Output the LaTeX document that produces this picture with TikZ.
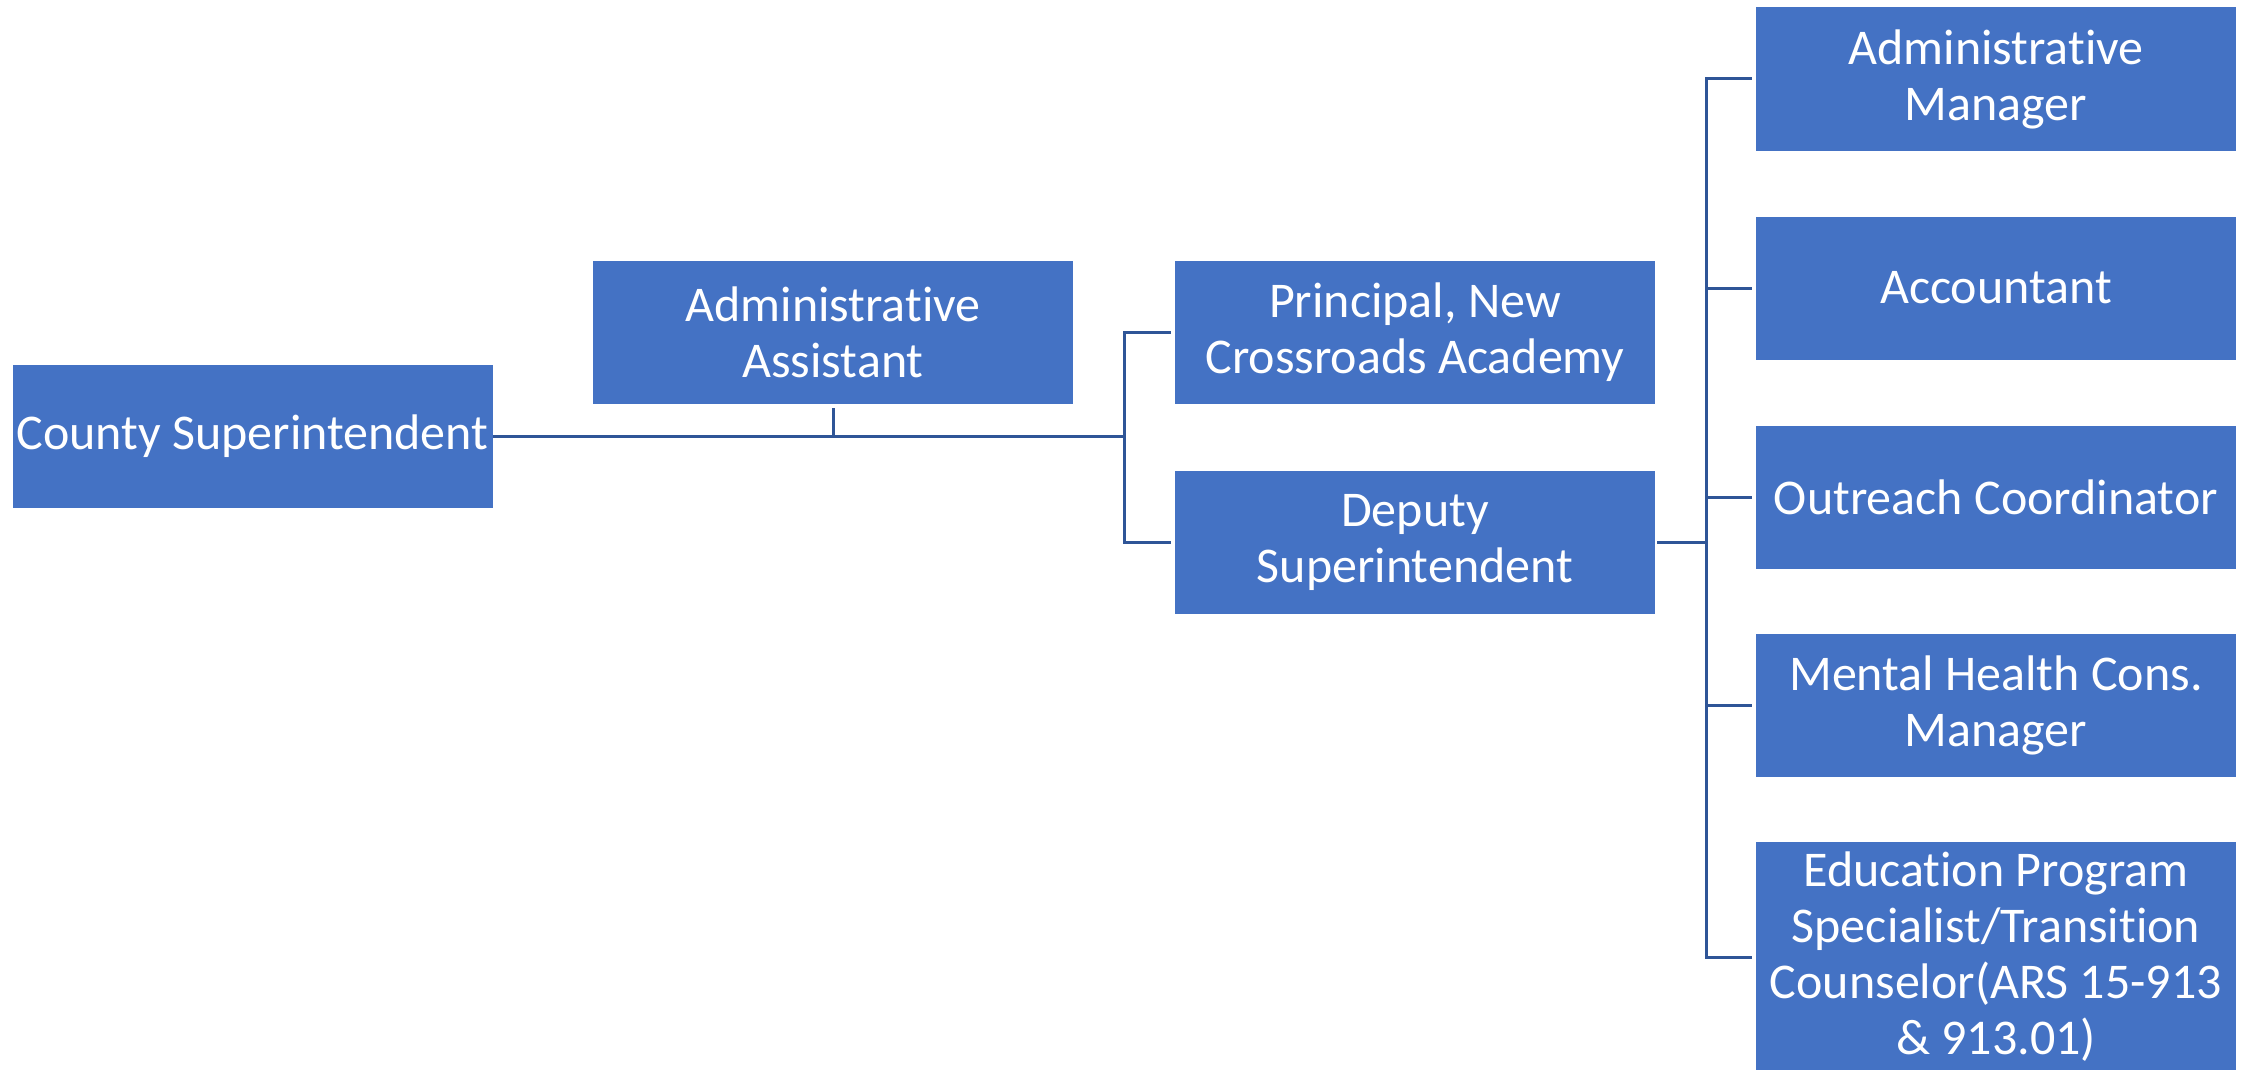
\documentclass[tikz,border=0pt]{standalone}
\usepackage{fontspec}
\setmainfont[Ligatures=NoCommon]{Carlito}
\usepackage{tikz}

\definecolor{boxblue}{HTML}{4472C4}
\definecolor{linkblue}{HTML}{2F5597}
\newcommand{\postfont}{\fontsize{25pt}{28pt}\selectfont}

\tikzset{
  post/.style={rectangle, fill=boxblue, text=white, minimum width=240pt,
    minimum height=71.5pt, align=center, inner sep=2pt, font=\postfont},
  link/.style={draw=linkblue, line width=1.5pt}
}

\begin{document}
\begin{tikzpicture}[x=0.5pt,y=-0.5pt]
\useasboundingbox (0,0) rectangle (2253,1070);

% Boxes, left to right.
\node[post] (county) at (252.5,436.5) {County Superintendent};
\node[post] (assist) at (833,332.5) {Administrative\\Assistant};
\node[post] (principal) at (1415,332.5) {Principal, New\\Crossroads Academy};
\node[post] (deputy) at (1415,542) {Deputy\\Superintendent};

\node[post] (manager) at (1996,79) {Administrative\\Manager};
\node[post] (accountant) at (1996,288) {Accountant};
\node[post] (outreach) at (1996,497) {Outreach Coordinator};
\node[post] (mental) at (1996,705.5) {Mental Health Cons.\\Manager};
\node[post, minimum height=115pt] (education) at (1996,957) {Education Program\\Specialist/Transition\\Counselor(ARS 15-913\\\& 913.01)};

% Connectors.
\coordinate (hub) at (1124,436.5);
\coordinate (spine) at (1706,542);

\draw[link] (county.east) -- (hub);
\draw[link] ([yshift=-2pt]assist.south) -- (assist.south |- hub);
\draw[link] ([xshift=-2pt]principal.west) -| (hub) |- ([xshift=-2pt]deputy.west);

\draw[link] ([xshift=1pt]deputy.east) -- (spine);
\foreach \b in {manager,accountant,outreach,mental,education}
  \draw[link] ([xshift=-2pt]\b.west) -| (spine);
\end{tikzpicture}
\end{document}
